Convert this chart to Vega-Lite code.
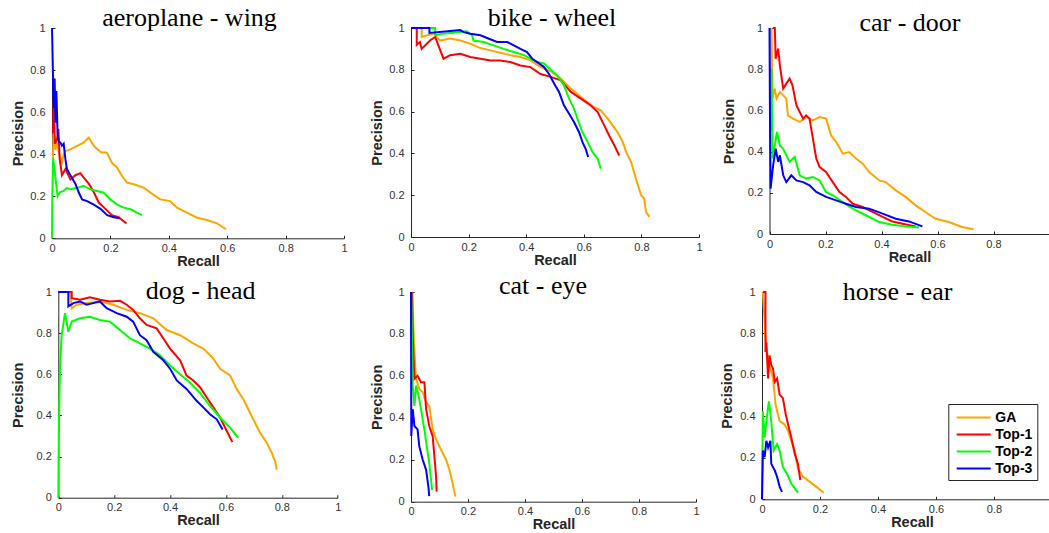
{
"$schema": "https://vega.github.io/schema/vega-lite/v6.json",
"background": "white",
"padding": {"left": 10, "top": 5, "right": 0, "bottom": 0},
"data": {"values": [
{"k":"A","m":"GA","r":0.003,"p":0.36},{"k":"A","m":"GA","r":0.005,"p":0.5},{"k":"A","m":"GA","r":0.012,"p":0.42},{"k":"A","m":"GA","r":0.017,"p":0.455},{"k":"A","m":"GA","r":0.025,"p":0.4},{"k":"A","m":"GA","r":0.034,"p":0.36},{"k":"A","m":"GA","r":0.04,"p":0.4},{"k":"A","m":"GA","r":0.046,"p":0.415},{"k":"A","m":"GA","r":0.063,"p":0.423},{"k":"A","m":"GA","r":0.086,"p":0.439},{"k":"A","m":"GA","r":0.108,"p":0.455},{"k":"A","m":"GA","r":0.126,"p":0.479},{"k":"A","m":"GA","r":0.143,"p":0.44},{"k":"A","m":"GA","r":0.166,"p":0.41},{"k":"A","m":"GA","r":0.188,"p":0.407},{"k":"A","m":"GA","r":0.205,"p":0.36},{"k":"A","m":"GA","r":0.223,"p":0.336},{"k":"A","m":"GA","r":0.24,"p":0.296},{"k":"A","m":"GA","r":0.257,"p":0.265},{"k":"A","m":"GA","r":0.28,"p":0.257},{"k":"A","m":"GA","r":0.314,"p":0.241},{"k":"A","m":"GA","r":0.337,"p":0.217},{"k":"A","m":"GA","r":0.371,"p":0.185},{"k":"A","m":"GA","r":0.405,"p":0.177},{"k":"A","m":"GA","r":0.428,"p":0.146},{"k":"A","m":"GA","r":0.462,"p":0.122},{"k":"A","m":"GA","r":0.497,"p":0.098},{"k":"A","m":"GA","r":0.531,"p":0.087},{"k":"A","m":"GA","r":0.565,"p":0.071},{"k":"A","m":"GA","r":0.596,"p":0.043},
{"k":"A","m":"Top-1","r":0.004,"p":0.5},{"k":"A","m":"Top-1","r":0.006,"p":0.66},{"k":"A","m":"Top-1","r":0.01,"p":0.45},{"k":"A","m":"Top-1","r":0.017,"p":0.47},{"k":"A","m":"Top-1","r":0.022,"p":0.52},{"k":"A","m":"Top-1","r":0.026,"p":0.38},{"k":"A","m":"Top-1","r":0.034,"p":0.3},{"k":"A","m":"Top-1","r":0.046,"p":0.33},{"k":"A","m":"Top-1","r":0.063,"p":0.28},{"k":"A","m":"Top-1","r":0.08,"p":0.3},{"k":"A","m":"Top-1","r":0.097,"p":0.31},{"k":"A","m":"Top-1","r":0.108,"p":0.29},{"k":"A","m":"Top-1","r":0.126,"p":0.26},{"k":"A","m":"Top-1","r":0.143,"p":0.22},{"k":"A","m":"Top-1","r":0.16,"p":0.17},{"k":"A","m":"Top-1","r":0.183,"p":0.14},{"k":"A","m":"Top-1","r":0.205,"p":0.11},{"k":"A","m":"Top-1","r":0.228,"p":0.1},{"k":"A","m":"Top-1","r":0.255,"p":0.07},
{"k":"A","m":"Top-2","r":0,"p":0},{"k":"A","m":"Top-2","r":0.001,"p":0.2},{"k":"A","m":"Top-2","r":0.004,"p":0.38},{"k":"A","m":"Top-2","r":0.011,"p":0.3},{"k":"A","m":"Top-2","r":0.019,"p":0.2},{"k":"A","m":"Top-2","r":0.028,"p":0.22},{"k":"A","m":"Top-2","r":0.04,"p":0.225},{"k":"A","m":"Top-2","r":0.051,"p":0.24},{"k":"A","m":"Top-2","r":0.063,"p":0.233},{"k":"A","m":"Top-2","r":0.086,"p":0.24},{"k":"A","m":"Top-2","r":0.108,"p":0.25},{"k":"A","m":"Top-2","r":0.131,"p":0.233},{"k":"A","m":"Top-2","r":0.154,"p":0.225},{"k":"A","m":"Top-2","r":0.177,"p":0.217},{"k":"A","m":"Top-2","r":0.2,"p":0.185},{"k":"A","m":"Top-2","r":0.223,"p":0.16},{"k":"A","m":"Top-2","r":0.246,"p":0.146},{"k":"A","m":"Top-2","r":0.269,"p":0.138},{"k":"A","m":"Top-2","r":0.291,"p":0.122},{"k":"A","m":"Top-2","r":0.308,"p":0.11},
{"k":"A","m":"Top-3","r":0,"p":1},{"k":"A","m":"Top-3","r":0.003,"p":0.8},{"k":"A","m":"Top-3","r":0.006,"p":0.62},{"k":"A","m":"Top-3","r":0.009,"p":0.76},{"k":"A","m":"Top-3","r":0.012,"p":0.55},{"k":"A","m":"Top-3","r":0.015,"p":0.7},{"k":"A","m":"Top-3","r":0.019,"p":0.5},{"k":"A","m":"Top-3","r":0.023,"p":0.46},{"k":"A","m":"Top-3","r":0.029,"p":0.455},{"k":"A","m":"Top-3","r":0.034,"p":0.44},{"k":"A","m":"Top-3","r":0.04,"p":0.45},{"k":"A","m":"Top-3","r":0.046,"p":0.375},{"k":"A","m":"Top-3","r":0.051,"p":0.33},{"k":"A","m":"Top-3","r":0.063,"p":0.3},{"k":"A","m":"Top-3","r":0.08,"p":0.26},{"k":"A","m":"Top-3","r":0.091,"p":0.22},{"k":"A","m":"Top-3","r":0.103,"p":0.185},{"k":"A","m":"Top-3","r":0.12,"p":0.177},{"k":"A","m":"Top-3","r":0.143,"p":0.16},{"k":"A","m":"Top-3","r":0.166,"p":0.14},{"k":"A","m":"Top-3","r":0.189,"p":0.11},{"k":"A","m":"Top-3","r":0.211,"p":0.1},{"k":"A","m":"Top-3","r":0.232,"p":0.095},
{"k":"B","m":"GA","r":0,"p":1},{"k":"B","m":"GA","r":0.037,"p":1},{"k":"B","m":"GA","r":0.037,"p":0.957},{"k":"B","m":"GA","r":0.078,"p":0.973},{"k":"B","m":"GA","r":0.101,"p":0.94},{"k":"B","m":"GA","r":0.136,"p":0.95},{"k":"B","m":"GA","r":0.171,"p":0.94},{"k":"B","m":"GA","r":0.206,"p":0.925},{"k":"B","m":"GA","r":0.241,"p":0.904},{"k":"B","m":"GA","r":0.276,"p":0.893},{"k":"B","m":"GA","r":0.31,"p":0.882},{"k":"B","m":"GA","r":0.345,"p":0.87},{"k":"B","m":"GA","r":0.38,"p":0.861},{"k":"B","m":"GA","r":0.415,"p":0.845},{"k":"B","m":"GA","r":0.45,"p":0.813},{"k":"B","m":"GA","r":0.485,"p":0.793},{"k":"B","m":"GA","r":0.52,"p":0.758},{"k":"B","m":"GA","r":0.555,"p":0.71},{"k":"B","m":"GA","r":0.59,"p":0.67},{"k":"B","m":"GA","r":0.624,"p":0.63},{"k":"B","m":"GA","r":0.659,"p":0.606},{"k":"B","m":"GA","r":0.683,"p":0.566},{"k":"B","m":"GA","r":0.717,"p":0.502},{"k":"B","m":"GA","r":0.735,"p":0.455},{"k":"B","m":"GA","r":0.747,"p":0.407},{"k":"B","m":"GA","r":0.764,"p":0.359},{"k":"B","m":"GA","r":0.781,"p":0.279},{"k":"B","m":"GA","r":0.799,"p":0.2},{"k":"B","m":"GA","r":0.81,"p":0.183},{"k":"B","m":"GA","r":0.816,"p":0.12},{"k":"B","m":"GA","r":0.828,"p":0.096},
{"k":"B","m":"Top-1","r":0,"p":1},{"k":"B","m":"Top-1","r":0.02,"p":1},{"k":"B","m":"Top-1","r":0.02,"p":0.92},{"k":"B","m":"Top-1","r":0.031,"p":0.933},{"k":"B","m":"Top-1","r":0.037,"p":0.9},{"k":"B","m":"Top-1","r":0.066,"p":0.94},{"k":"B","m":"Top-1","r":0.084,"p":0.957},{"k":"B","m":"Top-1","r":0.095,"p":0.917},{"k":"B","m":"Top-1","r":0.113,"p":0.853},{"k":"B","m":"Top-1","r":0.136,"p":0.87},{"k":"B","m":"Top-1","r":0.171,"p":0.877},{"k":"B","m":"Top-1","r":0.206,"p":0.861},{"k":"B","m":"Top-1","r":0.241,"p":0.853},{"k":"B","m":"Top-1","r":0.276,"p":0.845},{"k":"B","m":"Top-1","r":0.31,"p":0.845},{"k":"B","m":"Top-1","r":0.345,"p":0.837},{"k":"B","m":"Top-1","r":0.38,"p":0.821},{"k":"B","m":"Top-1","r":0.415,"p":0.813},{"k":"B","m":"Top-1","r":0.45,"p":0.78},{"k":"B","m":"Top-1","r":0.485,"p":0.766},{"k":"B","m":"Top-1","r":0.52,"p":0.75},{"k":"B","m":"Top-1","r":0.555,"p":0.694},{"k":"B","m":"Top-1","r":0.59,"p":0.662},{"k":"B","m":"Top-1","r":0.624,"p":0.63},{"k":"B","m":"Top-1","r":0.648,"p":0.598},{"k":"B","m":"Top-1","r":0.671,"p":0.534},{"k":"B","m":"Top-1","r":0.688,"p":0.486},{"k":"B","m":"Top-1","r":0.706,"p":0.439},{"k":"B","m":"Top-1","r":0.723,"p":0.39},
{"k":"B","m":"Top-2","r":0,"p":1},{"k":"B","m":"Top-2","r":0.084,"p":1},{"k":"B","m":"Top-2","r":0.084,"p":0.965},{"k":"B","m":"Top-2","r":0.113,"p":0.973},{"k":"B","m":"Top-2","r":0.159,"p":0.98},{"k":"B","m":"Top-2","r":0.194,"p":0.984},{"k":"B","m":"Top-2","r":0.212,"p":0.965},{"k":"B","m":"Top-2","r":0.217,"p":0.94},{"k":"B","m":"Top-2","r":0.252,"p":0.933},{"k":"B","m":"Top-2","r":0.287,"p":0.917},{"k":"B","m":"Top-2","r":0.322,"p":0.9},{"k":"B","m":"Top-2","r":0.357,"p":0.885},{"k":"B","m":"Top-2","r":0.392,"p":0.87},{"k":"B","m":"Top-2","r":0.415,"p":0.853},{"k":"B","m":"Top-2","r":0.438,"p":0.837},{"k":"B","m":"Top-2","r":0.462,"p":0.83},{"k":"B","m":"Top-2","r":0.485,"p":0.8},{"k":"B","m":"Top-2","r":0.508,"p":0.773},{"k":"B","m":"Top-2","r":0.531,"p":0.726},{"k":"B","m":"Top-2","r":0.549,"p":0.662},{"k":"B","m":"Top-2","r":0.566,"p":0.614},{"k":"B","m":"Top-2","r":0.578,"p":0.566},{"k":"B","m":"Top-2","r":0.595,"p":0.502},{"k":"B","m":"Top-2","r":0.613,"p":0.455},{"k":"B","m":"Top-2","r":0.63,"p":0.407},{"k":"B","m":"Top-2","r":0.648,"p":0.375},{"k":"B","m":"Top-2","r":0.659,"p":0.327},
{"k":"B","m":"Top-3","r":0,"p":1},{"k":"B","m":"Top-3","r":0.064,"p":1},{"k":"B","m":"Top-3","r":0.064,"p":0.976},{"k":"B","m":"Top-3","r":0.136,"p":0.986},{"k":"B","m":"Top-3","r":0.171,"p":0.99},{"k":"B","m":"Top-3","r":0.183,"p":0.98},{"k":"B","m":"Top-3","r":0.206,"p":0.973},{"k":"B","m":"Top-3","r":0.241,"p":0.965},{"k":"B","m":"Top-3","r":0.264,"p":0.952},{"k":"B","m":"Top-3","r":0.299,"p":0.933},{"k":"B","m":"Top-3","r":0.334,"p":0.933},{"k":"B","m":"Top-3","r":0.357,"p":0.917},{"k":"B","m":"Top-3","r":0.38,"p":0.9},{"k":"B","m":"Top-3","r":0.403,"p":0.885},{"k":"B","m":"Top-3","r":0.421,"p":0.853},{"k":"B","m":"Top-3","r":0.438,"p":0.837},{"k":"B","m":"Top-3","r":0.462,"p":0.813},{"k":"B","m":"Top-3","r":0.479,"p":0.78},{"k":"B","m":"Top-3","r":0.497,"p":0.734},{"k":"B","m":"Top-3","r":0.514,"p":0.694},{"k":"B","m":"Top-3","r":0.531,"p":0.63},{"k":"B","m":"Top-3","r":0.549,"p":0.59},{"k":"B","m":"Top-3","r":0.566,"p":0.55},{"k":"B","m":"Top-3","r":0.584,"p":0.5},{"k":"B","m":"Top-3","r":0.595,"p":0.455},{"k":"B","m":"Top-3","r":0.607,"p":0.42},{"k":"B","m":"Top-3","r":0.615,"p":0.383},
{"k":"C","m":"GA","r":0.007,"p":1},{"k":"C","m":"GA","r":0.011,"p":0.66},{"k":"C","m":"GA","r":0.019,"p":0.706},{"k":"C","m":"GA","r":0.025,"p":0.657},{"k":"C","m":"GA","r":0.037,"p":0.689},{"k":"C","m":"GA","r":0.049,"p":0.673},{"k":"C","m":"GA","r":0.06,"p":0.657},{"k":"C","m":"GA","r":0.066,"p":0.576},{"k":"C","m":"GA","r":0.084,"p":0.56},{"k":"C","m":"GA","r":0.108,"p":0.544},{"k":"C","m":"GA","r":0.131,"p":0.568},{"k":"C","m":"GA","r":0.155,"p":0.552},{"k":"C","m":"GA","r":0.179,"p":0.568},{"k":"C","m":"GA","r":0.202,"p":0.56},{"k":"C","m":"GA","r":0.22,"p":0.479},{"k":"C","m":"GA","r":0.238,"p":0.447},{"k":"C","m":"GA","r":0.262,"p":0.39},{"k":"C","m":"GA","r":0.285,"p":0.398},{"k":"C","m":"GA","r":0.309,"p":0.366},{"k":"C","m":"GA","r":0.333,"p":0.341},{"k":"C","m":"GA","r":0.356,"p":0.301},{"k":"C","m":"GA","r":0.392,"p":0.26},{"k":"C","m":"GA","r":0.415,"p":0.252},{"k":"C","m":"GA","r":0.451,"p":0.212},{"k":"C","m":"GA","r":0.486,"p":0.18},{"k":"C","m":"GA","r":0.522,"p":0.139},{"k":"C","m":"GA","r":0.557,"p":0.107},{"k":"C","m":"GA","r":0.593,"p":0.074},{"k":"C","m":"GA","r":0.64,"p":0.058},{"k":"C","m":"GA","r":0.688,"p":0.034},{"k":"C","m":"GA","r":0.729,"p":0.023},
{"k":"C","m":"Top-1","r":0.012,"p":1},{"k":"C","m":"Top-1","r":0.019,"p":1},{"k":"C","m":"Top-1","r":0.022,"p":0.851},{"k":"C","m":"Top-1","r":0.031,"p":0.9},{"k":"C","m":"Top-1","r":0.037,"p":0.819},{"k":"C","m":"Top-1","r":0.049,"p":0.706},{"k":"C","m":"Top-1","r":0.06,"p":0.73},{"k":"C","m":"Top-1","r":0.072,"p":0.754},{"k":"C","m":"Top-1","r":0.082,"p":0.722},{"k":"C","m":"Top-1","r":0.096,"p":0.625},{"k":"C","m":"Top-1","r":0.108,"p":0.592},{"k":"C","m":"Top-1","r":0.12,"p":0.56},{"k":"C","m":"Top-1","r":0.131,"p":0.576},{"k":"C","m":"Top-1","r":0.143,"p":0.56},{"k":"C","m":"Top-1","r":0.155,"p":0.463},{"k":"C","m":"Top-1","r":0.167,"p":0.366},{"k":"C","m":"Top-1","r":0.179,"p":0.325},{"k":"C","m":"Top-1","r":0.202,"p":0.301},{"k":"C","m":"Top-1","r":0.226,"p":0.252},{"k":"C","m":"Top-1","r":0.25,"p":0.204},{"k":"C","m":"Top-1","r":0.273,"p":0.18},{"k":"C","m":"Top-1","r":0.297,"p":0.147},{"k":"C","m":"Top-1","r":0.333,"p":0.131},{"k":"C","m":"Top-1","r":0.368,"p":0.107},{"k":"C","m":"Top-1","r":0.404,"p":0.083},{"k":"C","m":"Top-1","r":0.439,"p":0.061},{"k":"C","m":"Top-1","r":0.475,"p":0.05},{"k":"C","m":"Top-1","r":0.522,"p":0.037},
{"k":"C","m":"Top-2","r":0.005,"p":0.5},{"k":"C","m":"Top-2","r":0.007,"p":0.8},{"k":"C","m":"Top-2","r":0.011,"p":0.366},{"k":"C","m":"Top-2","r":0.019,"p":0.43},{"k":"C","m":"Top-2","r":0.027,"p":0.495},{"k":"C","m":"Top-2","r":0.037,"p":0.43},{"k":"C","m":"Top-2","r":0.049,"p":0.414},{"k":"C","m":"Top-2","r":0.06,"p":0.382},{"k":"C","m":"Top-2","r":0.072,"p":0.35},{"k":"C","m":"Top-2","r":0.09,"p":0.374},{"k":"C","m":"Top-2","r":0.108,"p":0.285},{"k":"C","m":"Top-2","r":0.131,"p":0.269},{"k":"C","m":"Top-2","r":0.155,"p":0.277},{"k":"C","m":"Top-2","r":0.179,"p":0.26},{"k":"C","m":"Top-2","r":0.202,"p":0.204},{"k":"C","m":"Top-2","r":0.226,"p":0.188},{"k":"C","m":"Top-2","r":0.262,"p":0.155},{"k":"C","m":"Top-2","r":0.297,"p":0.123},{"k":"C","m":"Top-2","r":0.344,"p":0.091},{"k":"C","m":"Top-2","r":0.392,"p":0.058},{"k":"C","m":"Top-2","r":0.439,"p":0.045},{"k":"C","m":"Top-2","r":0.486,"p":0.037},{"k":"C","m":"Top-2","r":0.534,"p":0.032},
{"k":"C","m":"Top-3","r":0,"p":1},{"k":"C","m":"Top-3","r":0.002,"p":0.5},{"k":"C","m":"Top-3","r":0.004,"p":0.22},{"k":"C","m":"Top-3","r":0.013,"p":0.333},{"k":"C","m":"Top-3","r":0.022,"p":0.414},{"k":"C","m":"Top-3","r":0.031,"p":0.35},{"k":"C","m":"Top-3","r":0.037,"p":0.382},{"k":"C","m":"Top-3","r":0.049,"p":0.285},{"k":"C","m":"Top-3","r":0.06,"p":0.252},{"k":"C","m":"Top-3","r":0.078,"p":0.285},{"k":"C","m":"Top-3","r":0.096,"p":0.26},{"k":"C","m":"Top-3","r":0.12,"p":0.252},{"k":"C","m":"Top-3","r":0.143,"p":0.236},{"k":"C","m":"Top-3","r":0.167,"p":0.204},{"k":"C","m":"Top-3","r":0.202,"p":0.18},{"k":"C","m":"Top-3","r":0.238,"p":0.163},{"k":"C","m":"Top-3","r":0.273,"p":0.147},{"k":"C","m":"Top-3","r":0.309,"p":0.131},{"k":"C","m":"Top-3","r":0.356,"p":0.123},{"k":"C","m":"Top-3","r":0.404,"p":0.099},{"k":"C","m":"Top-3","r":0.451,"p":0.074},{"k":"C","m":"Top-3","r":0.498,"p":0.061},{"k":"C","m":"Top-3","r":0.546,"p":0.037},
{"k":"D","m":"GA","r":0,"p":1},{"k":"D","m":"GA","r":0.042,"p":1},{"k":"D","m":"GA","r":0.048,"p":0.92},{"k":"D","m":"GA","r":0.066,"p":0.938},{"k":"D","m":"GA","r":0.101,"p":0.946},{"k":"D","m":"GA","r":0.149,"p":0.954},{"k":"D","m":"GA","r":0.197,"p":0.938},{"k":"D","m":"GA","r":0.245,"p":0.913},{"k":"D","m":"GA","r":0.292,"p":0.897},{"k":"D","m":"GA","r":0.34,"p":0.872},{"k":"D","m":"GA","r":0.388,"p":0.815},{"k":"D","m":"GA","r":0.436,"p":0.79},{"k":"D","m":"GA","r":0.483,"p":0.75},{"k":"D","m":"GA","r":0.519,"p":0.725},{"k":"D","m":"GA","r":0.555,"p":0.676},{"k":"D","m":"GA","r":0.579,"p":0.627},{"k":"D","m":"GA","r":0.615,"p":0.594},{"k":"D","m":"GA","r":0.638,"p":0.529},{"k":"D","m":"GA","r":0.662,"p":0.48},{"k":"D","m":"GA","r":0.68,"p":0.43},{"k":"D","m":"GA","r":0.698,"p":0.381},{"k":"D","m":"GA","r":0.722,"p":0.316},{"k":"D","m":"GA","r":0.746,"p":0.267},{"k":"D","m":"GA","r":0.764,"p":0.218},{"k":"D","m":"GA","r":0.776,"p":0.177},{"k":"D","m":"GA","r":0.782,"p":0.136},
{"k":"D","m":"Top-1","r":0,"p":1},{"k":"D","m":"Top-1","r":0.048,"p":1},{"k":"D","m":"Top-1","r":0.048,"p":0.97},{"k":"D","m":"Top-1","r":0.078,"p":0.962},{"k":"D","m":"Top-1","r":0.113,"p":0.974},{"k":"D","m":"Top-1","r":0.149,"p":0.962},{"k":"D","m":"Top-1","r":0.185,"p":0.954},{"k":"D","m":"Top-1","r":0.221,"p":0.957},{"k":"D","m":"Top-1","r":0.245,"p":0.938},{"k":"D","m":"Top-1","r":0.268,"p":0.913},{"k":"D","m":"Top-1","r":0.292,"p":0.872},{"k":"D","m":"Top-1","r":0.316,"p":0.84},{"k":"D","m":"Top-1","r":0.352,"p":0.823},{"k":"D","m":"Top-1","r":0.376,"p":0.774},{"k":"D","m":"Top-1","r":0.4,"p":0.725},{"k":"D","m":"Top-1","r":0.436,"p":0.668},{"k":"D","m":"Top-1","r":0.459,"p":0.594},{"k":"D","m":"Top-1","r":0.483,"p":0.57},{"k":"D","m":"Top-1","r":0.507,"p":0.537},{"k":"D","m":"Top-1","r":0.531,"p":0.488},{"k":"D","m":"Top-1","r":0.555,"p":0.439},{"k":"D","m":"Top-1","r":0.579,"p":0.39},{"k":"D","m":"Top-1","r":0.603,"p":0.324},{"k":"D","m":"Top-1","r":0.623,"p":0.27},
{"k":"D","m":"Top-2","r":0,"p":0},{"k":"D","m":"Top-2","r":0.002,"p":0.33},{"k":"D","m":"Top-2","r":0.006,"p":0.627},{"k":"D","m":"Top-2","r":0.012,"p":0.79},{"k":"D","m":"Top-2","r":0.024,"p":0.897},{"k":"D","m":"Top-2","r":0.036,"p":0.807},{"k":"D","m":"Top-2","r":0.048,"p":0.856},{"k":"D","m":"Top-2","r":0.078,"p":0.872},{"k":"D","m":"Top-2","r":0.113,"p":0.88},{"k":"D","m":"Top-2","r":0.149,"p":0.864},{"k":"D","m":"Top-2","r":0.185,"p":0.856},{"k":"D","m":"Top-2","r":0.221,"p":0.815},{"k":"D","m":"Top-2","r":0.257,"p":0.774},{"k":"D","m":"Top-2","r":0.292,"p":0.75},{"k":"D","m":"Top-2","r":0.328,"p":0.725},{"k":"D","m":"Top-2","r":0.364,"p":0.692},{"k":"D","m":"Top-2","r":0.4,"p":0.643},{"k":"D","m":"Top-2","r":0.436,"p":0.6},{"k":"D","m":"Top-2","r":0.471,"p":0.56},{"k":"D","m":"Top-2","r":0.507,"p":0.51},{"k":"D","m":"Top-2","r":0.543,"p":0.447},{"k":"D","m":"Top-2","r":0.579,"p":0.39},{"k":"D","m":"Top-2","r":0.615,"p":0.34},{"k":"D","m":"Top-2","r":0.644,"p":0.291},
{"k":"D","m":"Top-3","r":0,"p":1},{"k":"D","m":"Top-3","r":0.036,"p":1},{"k":"D","m":"Top-3","r":0.036,"p":0.93},{"k":"D","m":"Top-3","r":0.054,"p":0.946},{"k":"D","m":"Top-3","r":0.078,"p":0.954},{"k":"D","m":"Top-3","r":0.101,"p":0.938},{"k":"D","m":"Top-3","r":0.125,"p":0.946},{"k":"D","m":"Top-3","r":0.149,"p":0.954},{"k":"D","m":"Top-3","r":0.173,"p":0.921},{"k":"D","m":"Top-3","r":0.209,"p":0.897},{"k":"D","m":"Top-3","r":0.245,"p":0.88},{"k":"D","m":"Top-3","r":0.268,"p":0.856},{"k":"D","m":"Top-3","r":0.292,"p":0.79},{"k":"D","m":"Top-3","r":0.316,"p":0.766},{"k":"D","m":"Top-3","r":0.34,"p":0.709},{"k":"D","m":"Top-3","r":0.376,"p":0.668},{"k":"D","m":"Top-3","r":0.4,"p":0.627},{"k":"D","m":"Top-3","r":0.424,"p":0.57},{"k":"D","m":"Top-3","r":0.459,"p":0.529},{"k":"D","m":"Top-3","r":0.495,"p":0.471},{"k":"D","m":"Top-3","r":0.519,"p":0.439},{"k":"D","m":"Top-3","r":0.543,"p":0.406},{"k":"D","m":"Top-3","r":0.567,"p":0.381},{"k":"D","m":"Top-3","r":0.588,"p":0.332},
{"k":"E","m":"GA","r":0.004,"p":1},{"k":"E","m":"GA","r":0.012,"p":0.7},{"k":"E","m":"GA","r":0.018,"p":0.586},{"k":"E","m":"GA","r":0.029,"p":0.538},{"k":"E","m":"GA","r":0.041,"p":0.522},{"k":"E","m":"GA","r":0.053,"p":0.474},{"k":"E","m":"GA","r":0.064,"p":0.457},{"k":"E","m":"GA","r":0.076,"p":0.345},{"k":"E","m":"GA","r":0.088,"p":0.297},{"k":"E","m":"GA","r":0.105,"p":0.249},{"k":"E","m":"GA","r":0.123,"p":0.2},{"k":"E","m":"GA","r":0.135,"p":0.152},{"k":"E","m":"GA","r":0.146,"p":0.088},{"k":"E","m":"GA","r":0.156,"p":0.024},
{"k":"E","m":"Top-1","r":0.004,"p":1},{"k":"E","m":"Top-1","r":0.006,"p":0.795},{"k":"E","m":"Top-1","r":0.012,"p":0.586},{"k":"E","m":"Top-1","r":0.023,"p":0.6},{"k":"E","m":"Top-1","r":0.035,"p":0.57},{"k":"E","m":"Top-1","r":0.047,"p":0.57},{"k":"E","m":"Top-1","r":0.053,"p":0.441},{"k":"E","m":"Top-1","r":0.064,"p":0.361},{"k":"E","m":"Top-1","r":0.076,"p":0.313},{"k":"E","m":"Top-1","r":0.082,"p":0.217},{"k":"E","m":"Top-1","r":0.088,"p":0.12},{"k":"E","m":"Top-1","r":0.09,"p":0.048},
{"k":"E","m":"Top-2","r":0.001,"p":1},{"k":"E","m":"Top-2","r":0.006,"p":0.554},{"k":"E","m":"Top-2","r":0.012,"p":0.457},{"k":"E","m":"Top-2","r":0.018,"p":0.554},{"k":"E","m":"Top-2","r":0.029,"p":0.49},{"k":"E","m":"Top-2","r":0.035,"p":0.441},{"k":"E","m":"Top-2","r":0.047,"p":0.345},{"k":"E","m":"Top-2","r":0.055,"p":0.265},{"k":"E","m":"Top-2","r":0.064,"p":0.185},{"k":"E","m":"Top-2","r":0.074,"p":0.056},
{"k":"E","m":"Top-3","r":0,"p":1},{"k":"E","m":"Top-3","r":0.001,"p":0.313},{"k":"E","m":"Top-3","r":0.006,"p":0.441},{"k":"E","m":"Top-3","r":0.012,"p":0.361},{"k":"E","m":"Top-3","r":0.023,"p":0.345},{"k":"E","m":"Top-3","r":0.029,"p":0.265},{"k":"E","m":"Top-3","r":0.041,"p":0.2},{"k":"E","m":"Top-3","r":0.053,"p":0.152},{"k":"E","m":"Top-3","r":0.061,"p":0.072},{"k":"E","m":"Top-3","r":0.064,"p":0.027},
{"k":"F","m":"GA","r":0.003,"p":1},{"k":"F","m":"GA","r":0.015,"p":0.726},{"k":"F","m":"GA","r":0.026,"p":0.647},{"k":"F","m":"GA","r":0.038,"p":0.583},{"k":"F","m":"GA","r":0.047,"p":0.456},{"k":"F","m":"GA","r":0.061,"p":0.377},{"k":"F","m":"GA","r":0.078,"p":0.361},{"k":"F","m":"GA","r":0.09,"p":0.33},{"k":"F","m":"GA","r":0.101,"p":0.282},{"k":"F","m":"GA","r":0.113,"p":0.235},{"k":"F","m":"GA","r":0.124,"p":0.147},{"k":"F","m":"GA","r":0.142,"p":0.108},{"k":"F","m":"GA","r":0.165,"p":0.084},{"k":"F","m":"GA","r":0.188,"p":0.06},{"k":"F","m":"GA","r":0.213,"p":0.032},
{"k":"F","m":"Top-1","r":0.003,"p":1},{"k":"F","m":"Top-1","r":0.012,"p":1},{"k":"F","m":"Top-1","r":0.012,"p":0.71},{"k":"F","m":"Top-1","r":0.015,"p":0.757},{"k":"F","m":"Top-1","r":0.021,"p":0.583},{"k":"F","m":"Top-1","r":0.026,"p":0.694},{"k":"F","m":"Top-1","r":0.032,"p":0.647},{"k":"F","m":"Top-1","r":0.038,"p":0.631},{"k":"F","m":"Top-1","r":0.044,"p":0.567},{"k":"F","m":"Top-1","r":0.052,"p":0.583},{"k":"F","m":"Top-1","r":0.061,"p":0.504},{"k":"F","m":"Top-1","r":0.072,"p":0.488},{"k":"F","m":"Top-1","r":0.082,"p":0.409},{"k":"F","m":"Top-1","r":0.09,"p":0.361},{"k":"F","m":"Top-1","r":0.101,"p":0.298},{"k":"F","m":"Top-1","r":0.113,"p":0.219},{"k":"F","m":"Top-1","r":0.124,"p":0.171},{"k":"F","m":"Top-1","r":0.132,"p":0.092},
{"k":"F","m":"Top-2","r":0,"p":0},{"k":"F","m":"Top-2","r":0.003,"p":0.425},{"k":"F","m":"Top-2","r":0.009,"p":0.298},{"k":"F","m":"Top-2","r":0.015,"p":0.377},{"k":"F","m":"Top-2","r":0.024,"p":0.472},{"k":"F","m":"Top-2","r":0.032,"p":0.377},{"k":"F","m":"Top-2","r":0.04,"p":0.235},{"k":"F","m":"Top-2","r":0.052,"p":0.266},{"k":"F","m":"Top-2","r":0.061,"p":0.235},{"k":"F","m":"Top-2","r":0.072,"p":0.155},{"k":"F","m":"Top-2","r":0.086,"p":0.124},{"k":"F","m":"Top-2","r":0.101,"p":0.076},{"k":"F","m":"Top-2","r":0.124,"p":0.032},
{"k":"F","m":"Top-3","r":0,"p":0},{"k":"F","m":"Top-3","r":0.003,"p":0.235},{"k":"F","m":"Top-3","r":0.009,"p":0.203},{"k":"F","m":"Top-3","r":0.015,"p":0.282},{"k":"F","m":"Top-3","r":0.021,"p":0.25},{"k":"F","m":"Top-3","r":0.029,"p":0.282},{"k":"F","m":"Top-3","r":0.032,"p":0.171},{"k":"F","m":"Top-3","r":0.044,"p":0.139},{"k":"F","m":"Top-3","r":0.052,"p":0.108},{"k":"F","m":"Top-3","r":0.061,"p":0.06},{"k":"F","m":"Top-3","r":0.069,"p":0.036}
]},
"columns": 5,
"spacing": {"row": 53, "column": 0},
"align": "each",
"center": {"column": true, "row": false},
"bounds": "flush",
"resolve": {"scale": {"color": "independent"}, "legend": {"color": "independent"}},
"concat": [
{"width": 292, "height": 210.3, "title": {"text": "aeroplane - wing", "dx": -8.5, "dy": 13},
 "transform": [{"filter": "datum.k == 'A'"}],
 "mark": {"type": "line", "strokeWidth": 2},
 "encoding": {
  "x": {"field": "r", "type": "quantitative", "scale": {"domain": [0, 1]}, "axis": {"title": "Recall", "values": [0, 0.2, 0.4, 0.6, 0.8, 1]}},
  "y": {"field": "p", "type": "quantitative", "scale": {"domain": [0, 1]}, "axis": {"title": "Precision", "values": [0, 0.2, 0.4, 0.6, 0.8, 1]}},
  "color": {"field": "m", "type": "nominal", "scale": {"domain": ["GA", "Top-1", "Top-2", "Top-3"], "range": ["#FFA500", "#FF0000", "#00FF00", "#0000FF"]}, "legend": null},
  "order": {"value": null}}},
{"width": 67, "height": 1, "transform": [{"filter": "false"}], "mark": {"type": "point", "opacity": 0}},
{"width": 288, "height": 209, "title": {"text": "bike - wheel", "dx": -3, "dy": 13},
 "transform": [{"filter": "datum.k == 'B'"}],
 "mark": {"type": "line", "strokeWidth": 2},
 "encoding": {
  "x": {"field": "r", "type": "quantitative", "scale": {"domain": [0, 1]}, "axis": {"title": "Recall", "values": [0, 0.2, 0.4, 0.6, 0.8, 1]}},
  "y": {"field": "p", "type": "quantitative", "scale": {"domain": [0, 1]}, "axis": {"title": "Precision", "values": [0, 0.2, 0.4, 0.6, 0.8, 1]}},
  "color": {"field": "m", "type": "nominal", "scale": {"domain": ["GA", "Top-1", "Top-2", "Top-3"], "range": ["#FFA500", "#FF0000", "#00FF00", "#0000FF"]}, "legend": null},
  "order": {"value": null}}},
{"width": 62.3, "height": 1, "transform": [{"filter": "false"}], "mark": {"type": "point", "opacity": 0}},
{"width": 300, "height": 206, "title": {"text": "car - door", "dx": -2, "dy": 18.3},
 "transform": [{"filter": "datum.k == 'C'"}],
 "mark": {"type": "line", "strokeWidth": 2},
 "encoding": {
  "x": {"field": "r", "type": "quantitative", "scale": {"domain": [0, 1], "range": [7.5, 287.5]}, "axis": {"title": "Recall", "values": [0, 0.2, 0.4, 0.6, 0.8]}},
  "y": {"field": "p", "type": "quantitative", "scale": {"domain": [0, 1]}, "axis": {"title": "Precision", "offset": -7.5, "titlePadding": 10.8, "values": [0, 0.2, 0.4, 0.6, 0.8, 1]}},
  "color": {"field": "m", "type": "nominal", "scale": {"domain": ["GA", "Top-1", "Top-2", "Top-3"], "range": ["#FFA500", "#FF0000", "#00FF00", "#0000FF"]}, "legend": null},
  "order": {"value": null}}},
{"width": 279.4, "height": 205.7, "title": {"text": "dog - head", "dx": 2.6, "dy": 21.7},
 "transform": [{"filter": "datum.k == 'D'"}],
 "mark": {"type": "line", "strokeWidth": 2},
 "encoding": {
  "x": {"field": "r", "type": "quantitative", "scale": {"domain": [0, 1]}, "axis": {"title": "Recall", "values": [0, 0.2, 0.4, 0.6, 0.8, 1]}},
  "y": {"field": "p", "type": "quantitative", "scale": {"domain": [0, 1]}, "axis": {"title": "Precision", "titlePadding": 10.8, "values": [0, 0.2, 0.4, 0.6, 0.8, 1]}},
  "color": {"field": "m", "type": "nominal", "scale": {"domain": ["GA", "Top-1", "Top-2", "Top-3"], "range": ["#FFA500", "#FF0000", "#00FF00", "#0000FF"]}, "legend": null},
  "order": {"value": null}}},
{"width": 67, "height": 1, "transform": [{"filter": "false"}], "mark": {"type": "point", "opacity": 0}},
{"width": 285, "height": 209.7, "title": {"text": "cat - eye", "dx": -10.5, "dy": 17.4},
 "transform": [{"filter": "datum.k == 'E'"}],
 "mark": {"type": "line", "strokeWidth": 2},
 "encoding": {
  "x": {"field": "r", "type": "quantitative", "scale": {"domain": [0, 1]}, "axis": {"title": "Recall", "values": [0, 0.2, 0.4, 0.6, 0.8, 1]}},
  "y": {"field": "p", "type": "quantitative", "scale": {"domain": [0, 1]}, "axis": {"title": "Precision", "values": [0, 0.2, 0.4, 0.6, 0.8, 1]}},
  "color": {"field": "m", "type": "nominal", "scale": {"domain": ["GA", "Top-1", "Top-2", "Top-3"], "range": ["#FFA500", "#FF0000", "#00FF00", "#0000FF"]}, "legend": null},
  "order": {"value": null}}},
{"width": 62.3, "height": 1, "transform": [{"filter": "false"}], "mark": {"type": "point", "opacity": 0}},
{"width": 300, "height": 207.3, "title": {"text": "horse - ear", "dx": -14.5, "dy": 22.7},
 "transform": [{"filter": "datum.k == 'F'"}],
 "mark": {"type": "line", "strokeWidth": 2},
 "encoding": {
  "x": {"field": "r", "type": "quantitative", "scale": {"domain": [0, 1.0345]}, "axis": {"title": "Recall", "values": [0, 0.2, 0.4, 0.6, 0.8]}},
  "y": {"field": "p", "type": "quantitative", "scale": {"domain": [0, 1]}, "axis": {"title": "Precision", "titlePadding": 5, "values": [0, 0.2, 0.4, 0.6, 0.8, 1]}},
  "color": {"field": "m", "type": "nominal", "scale": {"domain": ["GA", "Top-1", "Top-2", "Top-3"], "range": ["#FFA500", "#FF0000", "#00FF00", "#0000FF"]},
   "legend": {"orient": "none", "legendX": 186.3, "legendY": 112, "title": null, "symbolType": "M-0.6,0H3.4", "symbolSize": 289, "symbolStrokeWidth": 2, "labelFont": "Liberation Sans", "labelFontWeight": "bold", "labelFontSize": 14, "labelColor": "black", "labelOffset": 24, "strokeColor": "#262626", "fillColor": "white", "padding": 4, "rowPadding": 0}},
  "order": {"value": null}}}
],
"config": {
 "font": "Liberation Sans",
 "view": {"stroke": null},
 "axis": {"grid": false, "domainColor": "#262626", "domainWidth": 1, "tickColor": "#262626", "tickSize": -3, "format": "~g", "labelFont": "Liberation Sans", "labelFontSize": 11, "labelColor": "#333333", "labelFlush": false, "labelOverlap": false, "titleFont": "Liberation Sans", "titleFontSize": 14.5, "titleFontWeight": "bold", "titleColor": "#262626"},
 "axisX": {"labelPadding": 7, "titlePadding": 1},
 "axisY": {"labelPadding": 10, "titlePadding": 4.5},
 "title": {"font": "Liberation Serif", "fontSize": 26, "fontWeight": "normal", "color": "black", "frame": "group", "anchor": "middle", "baseline": "alphabetic", "offset": 0}
}
}
